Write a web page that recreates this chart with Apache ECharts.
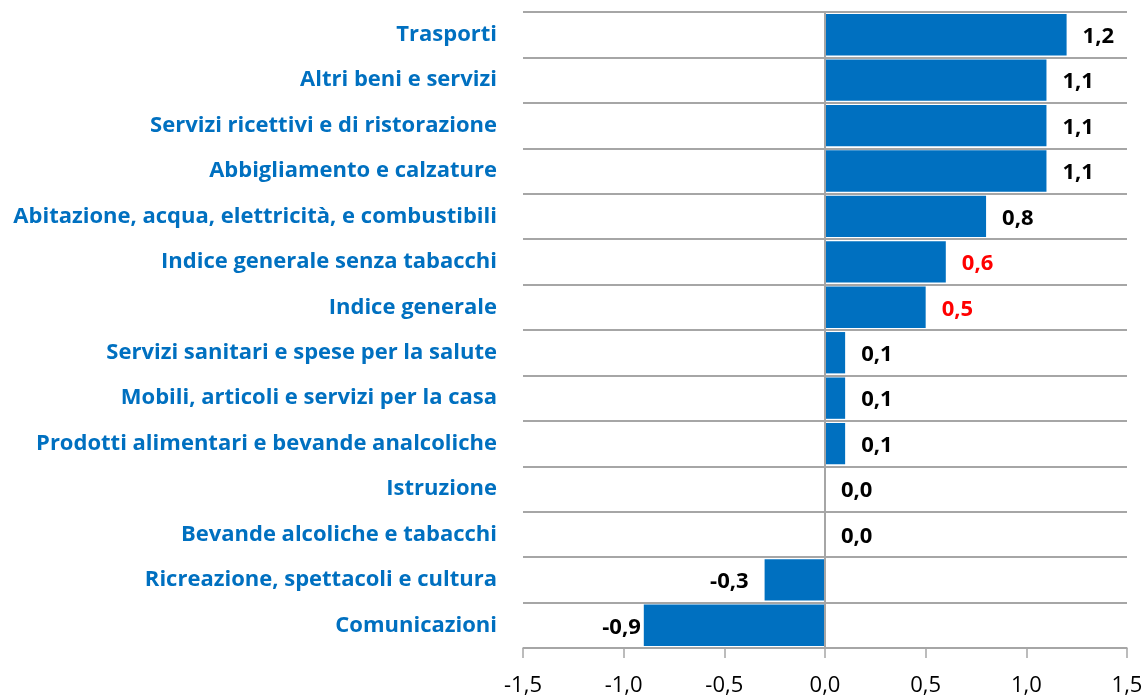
<!DOCTYPE html>
<html><head><meta charset="utf-8">
<script src="https://cdn.jsdelivr.net/npm/echarts@6/dist/echarts.min.js"></script>
<style>html,body{margin:0;padding:0;background:#fff}#c{width:1146px;height:697px}</style>
</head><body><div id="c"></div>
<script>
const categories = [
  'Trasporti',
  'Altri beni e servizi',
  'Servizi ricettivi e di ristorazione',
  'Abbigliamento e calzature',
  'Abitazione, acqua, elettricità, e combustibili',
  'Indice generale senza tabacchi',
  'Indice generale',
  'Servizi sanitari e spese per la salute',
  'Mobili, articoli e servizi per la casa',
  'Prodotti alimentari e bevande analcoliche',
  'Istruzione',
  'Bevande alcoliche e tabacchi',
  'Ricreazione, spettacoli e cultura',
  'Comunicazioni'
];
const values = [1.2, 1.1, 1.1, 1.1, 0.8, 0.6, 0.5, 0.1, 0.1, 0.1, 0.0, 0.0, -0.3, -0.9];
const highlighted = ['Indice generale senza tabacchi', 'Indice generale'];
const xTicks = { min: -1.5, max: 1.5, interval: 0.5 };

const FONT = '"Open Sans", Lato, sans-serif';
const BLUE = '#0070C0';
const GRAY = '#A6A6A6';
const fmt = v => v.toFixed(1).replace('.', ',');

const data = values.map((v, i) => ({
  value: v,
  label: {
    position: v < 0 ? 'left' : 'right',
    distance: v < -0.5 ? 3 : 16,
    color: highlighted.includes(categories[i]) ? '#FF0000' : '#000000'
  }
}));

const chart = echarts.init(document.getElementById('c'), null, { renderer: 'canvas' });
chart.setOption({
  animation: false,
  grid: { left: 523, right: 19, top: 12, bottom: 47, containLabel: false },
  xAxis: {
    type: 'value', min: xTicks.min, max: xTicks.max, interval: xTicks.interval,
    axisLine: { show: true, lineStyle: { color: GRAY, width: 1.5 } },
    axisTick: { show: true, length: 10, lineStyle: { color: GRAY, width: 1.5 } },
    splitLine: { show: false },
    axisLabel: { formatter: fmt, color: '#000', fontFamily: FONT, fontSize: 22, margin: 27 }
  },
  yAxis: {
    type: 'category', data: categories, inverse: true,
    axisLine: { show: false },
    axisTick: { show: false },
    splitLine: { show: true, lineStyle: { color: GRAY, width: 2 } },
    axisLabel: { color: BLUE, fontFamily: FONT, fontWeight: 'bold', fontSize: 22, margin: 26 }
  },
  series: [{
    type: 'bar', data: data, barCategoryGap: '9%',
    itemStyle: { color: BLUE },
    label: {
      show: true, formatter: p => fmt(p.value), offset: [0, 2],
      fontFamily: FONT, fontWeight: 'bold', fontSize: 22
    },
    markLine: {
      silent: true, symbol: 'none', label: { show: false },
      lineStyle: { color: GRAY, width: 2, type: 'solid' },
      data: [{ xAxis: 0 }]
    }
  }]
});
</script></body></html>
